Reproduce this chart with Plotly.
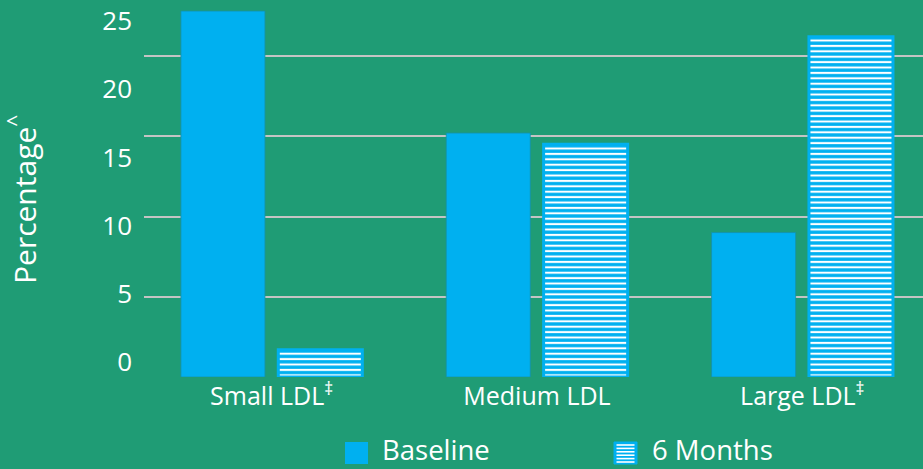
import plotly.graph_objects as go

categories = ["Small LDL<sup>‡</sup>", "Medium LDL", "Large LDL<sup>‡</sup>"]
baseline = [22.8, 15.2, 9.0]
six_months = [1.7, 14.5, 21.2]
series_names = ["Baseline", "6 Months"]
grid_vals = [0, 5, 10, 15, 20]
tick_labels = ["0", "5", "10", "15", "20", "25"]

BG = "#1f9c75"
BLUE = "#00b0f0"
FONT = "Open Sans"

fig = go.Figure()
fig.add_trace(go.Bar(x=categories, y=baseline, name=series_names[0],
                     marker=dict(color=BLUE, line=dict(color="#1592a8", width=0.8)),
                     showlegend=False, hoverinfo="skip"))
fig.add_trace(go.Bar(x=categories, y=six_months, name=series_names[1],
                     marker=dict(color=BLUE, line=dict(color=BLUE, width=3),
                                 pattern=dict(shape="-", fgcolor="white", bgcolor=BLUE,
                                              size=5.4, solidity=0.38, fillmode="replace")),
                     showlegend=False, hoverinfo="skip"))
# invisible trace carrying the labelled axis
fig.add_trace(go.Scatter(x=categories, y=[None] * 3, yaxis="y2", mode="markers",
                         showlegend=False, hoverinfo="skip"))

W, H = 923, 469
L, R, T, B = 144, 0, 0, 92
pw, ph = W - L - R, H - T - B

def px_x(px):
    return (px - L) / pw

def px_y(py):
    return (H - B - py) / ph

shapes = []
# legend: Baseline swatch
shapes.append(dict(type="rect", xref="paper", yref="paper",
                   x0=px_x(345), x1=px_x(368), y0=px_y(464), y1=px_y(442),
                   fillcolor=BLUE, line=dict(width=0)))
# legend: 6 Months swatch (hatched)
shapes.append(dict(type="rect", xref="paper", yref="paper",
                   x0=px_x(614), x1=px_x(637), y0=px_y(464), y1=px_y(442),
                   fillcolor=BLUE, line=dict(color=BLUE, width=1)))
for i in range(6):
    yy = 445 + i * 3.4
    shapes.append(dict(type="line", xref="paper", yref="paper",
                       x0=px_x(616.5), x1=px_x(634.5), y0=px_y(yy), y1=px_y(yy),
                       line=dict(color="white", width=1.6)))

annotations = [
    dict(text="Percentage<sup>^</sup>", xref="paper", yref="paper",
         x=px_x(23), y=px_y(200), textangle=-90, showarrow=False,
         xanchor="center", yanchor="middle",
         font=dict(family=FONT, size=30, color="white")),
    dict(text=series_names[0], xref="paper", yref="paper", x=px_x(381), y=px_y(469),
         xanchor="left", yanchor="bottom", showarrow=False, borderpad=0,
         font=dict(family=FONT, size=27.5, color="white")),
    dict(text=series_names[1], xref="paper", yref="paper", x=px_x(651), y=px_y(469),
         xanchor="left", yanchor="bottom", showarrow=False, borderpad=0,
         font=dict(family=FONT, size=27.5, color="white")),
]

fig.update_layout(
    width=W, height=H,
    margin=dict(l=L, r=R, t=T, b=B, pad=0),
    paper_bgcolor=BG, plot_bgcolor=BG,
    barmode="group", bargap=0.266, bargroupgap=0.137,
    font=dict(family=FONT, color="white"),
    showlegend=False,
    xaxis=dict(range=[-0.481, 2.455], showgrid=False, zeroline=False, showline=False,
               ticks="", tickfont=dict(family=FONT, size=25, color="white"),
               ticklabelstandoff=2, fixedrange=True),
    yaxis=dict(range=[0, 23.49], tickvals=grid_vals, showticklabels=False,
               showgrid=True, gridcolor="#c4c4c4", gridwidth=2,
               zeroline=False, showline=False, ticks="", fixedrange=True),
    yaxis2=dict(range=[-1.1, 26.54], overlaying="y", side="left",
                tickvals=[float(t) for t in tick_labels], ticktext=tick_labels,
                showgrid=False, zeroline=False, showline=False, ticks="",
                tickfont=dict(family=FONT, size=26, color="white"),
                ticklabelstandoff=11, fixedrange=True),
    shapes=shapes, annotations=annotations,
)

fig.write_html("out.html", config={"staticPlot": True},
               post_script="document.body.style.margin='0';document.body.style.padding='0';")
